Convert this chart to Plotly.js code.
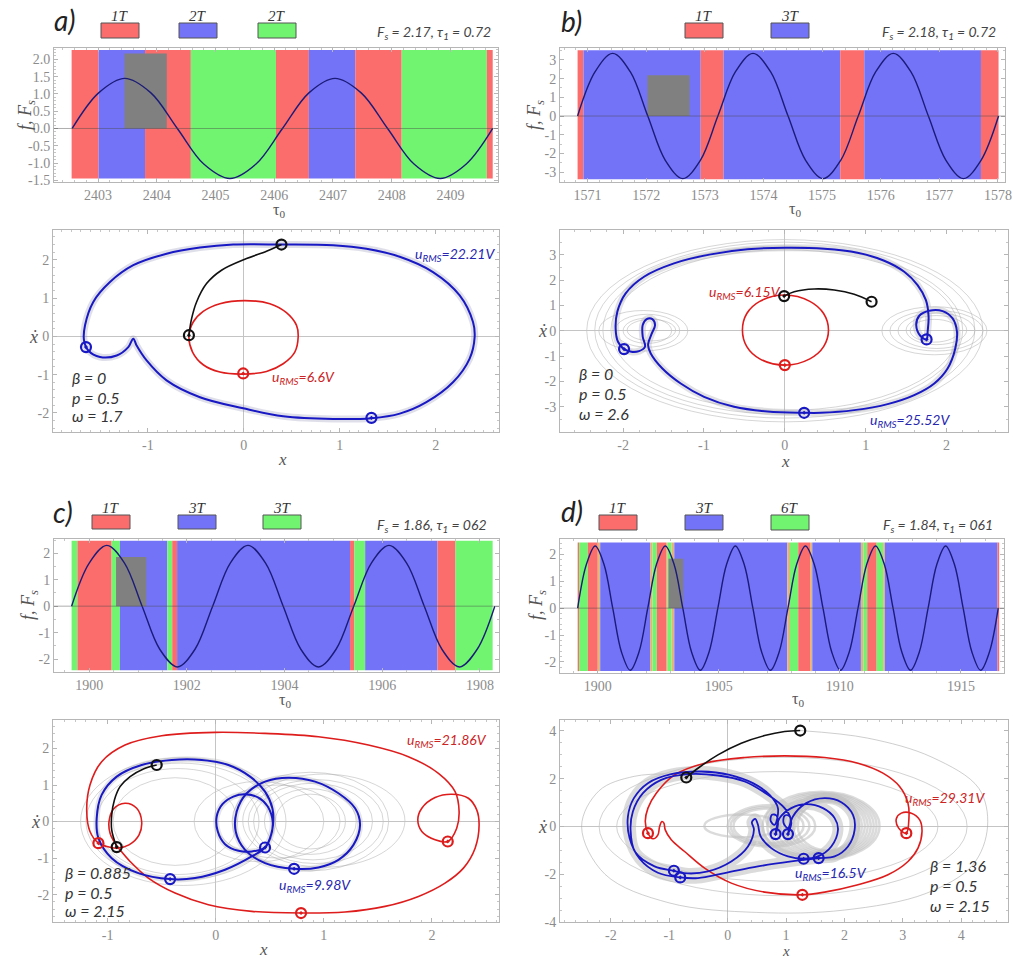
<!DOCTYPE html>
<html>
<head>
<meta charset="utf-8">
<title>Regime maps and phase portraits</title>
<script src="https://cdn.plot.ly/plotly-3.0.1.min.js"></script>
<style>
  html, body { margin: 0; padding: 0; background: #ffffff; }
  #fig { width: 1013px; height: 958px; }
</style>
</head>
<body>
<div id="fig"></div>
<script>
/* ================= forcing signal f(tau0) ================= */
const aTau = [2402.56, 2403.01, 2403.455, 2403.90, 2404.35, 2404.80, 2405.245, 2405.69, 2406.14, 2406.59, 2407.035, 2407.48, 2407.93, 2408.38, 2408.825, 2409.27, 2409.72];
const aF   = [0, 1.03, 1.45, 1.03, 0, -1.03, -1.45, -1.03, 0, 1.03, 1.45, 1.03, 0, -1.03, -1.45, -1.03, 0];

const bTau = [1570.830, 1571.129, 1571.428, 1571.728, 1572.027, 1572.326, 1572.625, 1572.924, 1573.223, 1573.523, 1573.822, 1574.121, 1574.420, 1574.719, 1575.018, 1575.318, 1575.617, 1575.916, 1576.215, 1576.514, 1576.813, 1577.113, 1577.412, 1577.711, 1578.010];
const bF   = [0, 2.37, 3.35, 2.37, 0, -2.37, -3.35, -2.37, 0, 2.37, 3.35, 2.37, 0, -2.37, -3.35, -2.37, 0, 2.37, 3.35, 2.37, 0, -2.37, -3.35, -2.37, 0];

const cTau = [1899.640, 1900.001, 1900.362, 1900.723, 1901.084, 1901.445, 1901.806, 1902.167, 1902.528, 1902.889, 1903.250, 1903.611, 1903.972, 1904.333, 1904.694, 1905.055, 1905.416, 1905.777, 1906.138, 1906.499, 1906.860, 1907.221, 1907.582, 1907.943, 1908.304];
const cF   = [0, 1.63, 2.3, 1.63, 0, -1.63, -2.3, -1.63, 0, 1.63, 2.3, 1.63, 0, -1.63, -2.3, -1.63, 0, 1.63, 2.3, 1.63, 0, -1.63, -2.3, -1.63, 0];

const dTau = [1899.170, 1899.532, 1899.894, 1900.256, 1900.618, 1900.979, 1901.341, 1901.703, 1902.065, 1902.427, 1902.789, 1903.151, 1903.513, 1903.874, 1904.236, 1904.598, 1904.960, 1905.322, 1905.684, 1906.046, 1906.408, 1906.769, 1907.131, 1907.493, 1907.855, 1908.217, 1908.579, 1908.941, 1909.303, 1909.664, 1910.026, 1910.388, 1910.750, 1911.112, 1911.474, 1911.836, 1912.198, 1912.559, 1912.921, 1913.283, 1913.645, 1914.007, 1914.369, 1914.731, 1915.093, 1915.454, 1915.816, 1916.178, 1916.540];
const dF   = [0, 1.63, 2.31, 1.63, 0, -1.63, -2.31, -1.63, 0, 1.63, 2.31, 1.63, 0, -1.63, -2.31, -1.63, 0, 1.63, 2.31, 1.63, 0, -1.63, -2.31, -1.63, 0, 1.63, 2.31, 1.63, 0, -1.63, -2.31, -1.63, 0, 1.63, 2.31, 1.63, 0, -1.63, -2.31, -1.63, 0, 1.63, 2.31, 1.63, 0, -1.63, -2.31, -1.63, 0];

/* ================= regime strips (start, end, kind) ================= */
/* kind: 1 = red, 2 = blue, 3 = green, 4 = blended edge */
const aStart = [2402.55, 2403.01, 2403.80, 2404.58, 2406.03, 2406.59, 2407.38, 2408.17, 2409.62];
const aEnd   = [2403.01, 2403.80, 2404.58, 2406.03, 2406.59, 2407.38, 2408.17, 2409.62, 2409.72];
const aKind  = [1, 2, 1, 3, 1, 2, 1, 3, 1];
const aBand  = [-1.45, 2.27];

const bStart = [1570.83, 1570.93, 1572.93, 1573.32, 1575.31, 1575.72, 1577.71];
const bEnd   = [1570.93, 1572.93, 1573.32, 1575.31, 1575.72, 1577.71, 1578.01];
const bKind  = [1, 2, 1, 2, 1, 2, 1];
const bBand  = [-3.38, 3.52];

const cStart = [1899.64, 1899.76, 1900.46, 1900.63, 1901.60, 1901.70, 1901.80, 1905.34, 1905.43, 1905.65, 1907.13, 1907.50];
const cEnd   = [1899.76, 1900.46, 1900.63, 1901.60, 1901.70, 1901.80, 1905.34, 1905.43, 1905.65, 1907.13, 1907.50, 1908.26];
const cKind  = [3, 1, 3, 2, 3, 1, 2, 1, 3, 2, 1, 3];
const cBand  = [-2.42, 2.47];

const dStart = [1899.17, 1899.23, 1899.59, 1900.00, 1900.10, 1902.16, 1902.26, 1902.44, 1902.82, 1902.89, 1903.05, 1903.16, 1907.83, 1907.94, 1908.28, 1908.77, 1908.86, 1910.87, 1910.97, 1911.13, 1911.52, 1911.79, 1911.86, 1916.51];
const dEnd   = [1899.23, 1899.59, 1900.00, 1900.10, 1902.16, 1902.26, 1902.44, 1902.82, 1902.89, 1903.05, 1903.16, 1907.83, 1907.94, 1908.28, 1908.77, 1908.86, 1910.87, 1910.97, 1911.13, 1911.52, 1911.79, 1911.86, 1916.51, 1916.58];
const dKind  = [1, 3, 1, 4, 2, 4, 3, 1, 4, 3, 4, 2, 4, 3, 1, 4, 2, 4, 3, 1, 3, 4, 2, 1];
const dBand  = [-2.34, 2.44];

/* stimulation pulse: [start, tau1, Fs] */
const aPulse = [2403.45, 0.72, 2.17];
const bPulse = [1572.02, 0.72, 2.18];
const cPulse = [1900.55, 0.62, 1.86];
const dPulse = [1902.92, 0.61, 1.84];

/* legend labels of the regime colours */
const aLegend = ['1T', '2T', '2T'];
const bLegend = ['1T', '3T'];
const cLegend = ['1T', '3T', '3T'];
const dLegend = ['1T', '3T', '6T'];

/* ================= phase portraits (x, x-dot) ================= */
/* a) */
const aBlueX = [0.392, 0.931, 1.278, 1.625, 1.972, 2.25, 2.389, 2.406, 2.354, 2.18, 1.903, 1.625, 1.33, 0.93, 0.41, -0.007, -0.458, -0.806, -1.014, -1.118, -1.153, -1.205, -1.326, -1.5, -1.622, -1.667, -1.656, -1.57, -1.396, -1.153, -0.806, -0.458, -0.111, 0.392];
const aBlueY = [2.40, 2.38, 2.29, 2.08, 1.68, 1.07, 0.375, -0.02, -0.58, -1.20, -1.72, -2.02, -2.14, -2.16, -2.09, -1.88, -1.59, -1.15, -0.63, -0.24, -0.06, -0.28, -0.50, -0.54, -0.37, -0.10, 0.29, 0.90, 1.42, 1.86, 2.16, 2.32, 2.40, 2.40];
const aRedX = [-0.573, -0.528, -0.424, -0.25, 0.01, 0.271, 0.444, 0.549, 0.566, 0.531, 0.41, 0.236, -0.007, -0.25, -0.424, -0.535, -0.573];
const aRedY = [0, 0.375, 0.654, 0.855, 0.934, 0.855, 0.62, 0.288, -0.017, -0.41, -0.716, -0.916, -0.986, -0.934, -0.742, -0.41, 0];
const aBlackX = [-0.573, -0.545, -0.493, -0.389, -0.233, 0.028, 0.236, 0.392];
const aBlackY = [0.026, 0.462, 0.899, 1.379, 1.728, 2.033, 2.225, 2.40];
const aBlueMarkX = [-1.646, 1.33],  aBlueMarkY = [-0.28, -2.13];
const aRedMarkX = [-0.007],         aRedMarkY = [-0.97];
const aStartX = [0.392], aStartY = [2.40];
const aJoinX = [-0.573], aJoinY = [0.03];

/* b) */
const bBlueX = [-1.988, -2.063, -2.092, -2.071, -1.968, -1.741, -1.370, -0.916, -0.462, 0, 0.487, 0.899, 1.229, 1.477, 1.642, 1.745, 1.778, 1.766, 1.753, 1.675, 1.625, 1.663, 1.786, 1.951, 2.075, 2.129, 2.108, 2.013, 1.848, 1.601, 1.271, 0.858, 0.446, 0.239, -0.215, -0.627, -0.998, -1.287, -1.514, -1.658, -1.691, -1.650, -1.605, -1.638, -1.708, -1.757, -1.757, -1.729, -1.803, -1.898, -1.988];
const bBlueY = [-0.725, -0.435, 0.092, 0.751, 1.476, 2.134, 2.661, 3.017, 3.215, 3.281, 3.241, 3.083, 2.767, 2.332, 1.805, 1.212, 0.553, -0.04, -0.343, -0.198, 0.224, 0.593, 0.791, 0.777, 0.487, -0.04, -0.698, -1.489, -2.082, -2.543, -2.899, -3.136, -3.241, -3.241, -3.188, -3.004, -2.609, -2.082, -1.489, -0.896, -0.567, -0.145, 0.224, 0.461, 0.461, 0.224, -0.237, -0.632, -0.804, -0.830, -0.725];
const bRedX = [-0.524, -0.47, -0.31, 0.0, 0.31, 0.48, 0.54, 0.48, 0.31, 0.0, -0.31, -0.47, -0.524];
const bRedY = [0.03, 0.68, 1.16, 1.41, 1.16, 0.68, 0.03, -0.63, -1.11, -1.357, -1.11, -0.63, 0.03];
const bBlackX = [-0.008, 0.116, 0.363, 0.611, 0.858, 1.073];
const bBlackY = [1.37, 1.54, 1.65, 1.61, 1.44, 1.146];
const bBlueMarkX = [-1.988, 1.753, 0.239], bBlueMarkY = [-0.725, -0.343, -3.241];
const bRedMarkX = [0], bRedMarkY = [-1.357];
const bStartX = [1.073], bStartY = [1.146];
const bJoinX = [-0.008], bJoinY = [1.37];

/* c) */
const cBlueX = [0.456, 0.333, 0.086, -0.191, -0.422, -0.715, -0.962, -1.085, -1.101, -1.055, -0.916, -0.685, -0.407, -0.130, 0.117, 0.318, 0.456, 0.524, 0.530, 0.503, 0.456,
                0.333, 0.210, 0.086, 0.019, 0.009, 0.062, 0.163, 0.271, 0.395, 0.481, 0.527, 0.512, 0.456, null,
                0.725, 0.456, 0.271, 0.185, 0.194, 0.287, 0.456, 0.672, 0.919, 1.135, 1.289, 1.335, 1.274, 1.135, 0.950, 0.725];
const cBlueY = [-0.710, -0.956, -1.321, -1.548, -1.576, -1.412, -1.002, -0.455, 0.091, 0.729, 1.230, 1.548, 1.685, 1.685, 1.548, 1.230, 0.820, 0.364, -0.091, -0.455, -0.710,
                -0.820, -0.801, -0.619, -0.273, 0.137, 0.474, 0.683, 0.747, 0.656, 0.410, 0, -0.364, -0.710, null,
                -1.293, -1.138, -0.774, -0.273, 0.273, 0.774, 1.093, 1.202, 1.093, 0.774, 0.364, -0.091, -0.638, -1.047, -1.257, -1.293];
const cRedX = [-0.006, 0.456, 0.950, 1.412, 1.782, 2.060, 2.214, 2.251, 2.229, 2.146, 2.029, 1.906, 1.869, 1.906, 2.029, 2.183, 2.337, 2.414, 2.436, 2.399, 2.291, 2.121, 1.875, 1.566, 1.196, 0.789, 0.333, -0.068, -0.376, -0.623, -0.792, -0.885, -0.931, -0.977, -0.987, -0.947, -0.839, -0.731, -0.685, -0.709, -0.802, -0.916, -1.008, -1.085, -1.163, -1.193, -1.163, -1.055, -0.839, -0.5, -0.006];
const cRedY = [2.441, 2.413, 2.322, 2.095, 1.776, 1.321, 0.820, 0.273, -0.182, -0.546, -0.501, -0.273, 0.046, 0.364, 0.656, 0.747, 0.638, 0.319, -0.091, -0.729, -1.275, -1.685, -2.049, -2.322, -2.477, -2.505, -2.459, -2.277, -1.958, -1.548, -1.093, -0.774, -0.592, -0.319, 0, 0.337, 0.501, 0.364, 0, -0.364, -0.638, -0.729, -0.683, -0.592, -0.273, 0.273, 1.002, 1.639, 2.095, 2.350, 2.441];
const cBlackX = [-0.916, -0.962, -0.962, -0.937, -0.885, -0.792, -0.669, -0.546];
const cBlackY = [-0.70, -0.228, 0.182, 0.592, 0.956, 1.230, 1.439, 1.548];
const cBlueMarkX = [-0.422, 0.456, 0.725], cBlueMarkY = [-1.576, -0.710, -1.293];
const cRedMarkX = [2.146, 0.789, -1.085], cRedMarkY = [-0.546, -2.505, -0.592];
const cStartX = [-0.546], cStartY = [1.548];
const cJoinX = [-0.916], cJoinY = [-0.70];

/* d) */
const dBlueX = [-0.811, -1.194, -1.507, -1.679, -1.707, -1.605, -1.365, -0.965, -0.452, 0.034, 0.433, 0.719, 0.861, 0.804, 0.736, 0.759, 0.833, 0.861, 0.821,
                0.890, 1.090, 1.346, 1.632, 1.832, 1.889, 1.775, 1.546, 1.301,
                1.033, 0.747, 0.565, 0.519, 0.473, 0.416, 0.450, 0.348, 0.062, -0.337, -0.680, -0.920,
                -1.251, -1.582, -1.662, -1.622, -1.450, -1.137, -0.680, -0.166, 0.291, 0.690, 0.975, 1.078, 1.033, 0.958, 0.975, 1.050, 1.090, 1.033,
                1.118, 1.346, 1.660, 1.946, 2.146, 2.174, 2.060, 1.832, 1.558, 1.090, 0.519, -0.052, -0.509, -0.811];
const dBlueY = [-2.133, -1.937, -1.351, -0.487, 0.420, 1.187, 1.815, 2.191, 2.303, 2.163, 1.815, 1.326, 0.768, 0.071, 0.238, 0.490, 0.462, 0.071, -0.319,
                0.350, 0.768, 0.936, 0.768, 0.350, -0.138, -0.835, -1.254, -1.351,
                -1.254, -0.905, -0.417, 0.071, 0.322, 0.183, -0.138, -0.835, -1.463, -1.881, -1.965, -1.854,
                -1.672, -1.073, -0.138, 0.629, 1.396, 1.954, 2.191, 2.135, 1.884, 1.326, 0.768, 0.322, -0.068, 0.141, 0.448, 0.448, 0.141, -0.319,
                0.420, 0.978, 1.187, 1.019, 0.490, -0.138, -0.835, -1.254, -1.324, -1.463, -1.672, -1.951, -2.160, -2.133];
const dRedX = [-1.364, -1.410, -1.364, -1.222, -0.907, -0.394, 0.291, 0.976, 1.660, 2.231, 2.659, 2.944, 3.087, 3.104, 3.059, 2.928, 2.888, 2.973, 3.145, 3.288, 3.328, 3.259, 3.088, 2.745, 2.232, 1.661, 1.279, 0.634, 0.063, -0.394, -0.737, -0.965, -1.068, -1.091, -1.125, -1.165, -1.193, -1.279, -1.364];
const dRedY = [-0.278, 0.211, 0.769, 1.396, 2.163, 2.651, 2.888, 2.958, 2.888, 2.651, 2.233, 1.675, 0.978, 0.350, -0.278, -0.068, 0.323, 0.559, 0.559, 0.280, -0.210, -0.908, -1.466, -2.023, -2.442, -2.749, -2.860, -2.749, -2.372, -1.745, -1.048, -0.560, -0.141, 0.140, 0.211, 0.001, -0.349, -0.516, -0.278];
const dBlackX = [-0.708, -0.508, -0.166, 0.233, 0.633, 0.975, 1.243];
const dBlackY = [2.052, 2.44, 2.999, 3.487, 3.808, 3.976, 4.018];
const dBlueMarkX = [-0.920, -0.811, 0.821, 1.033, 1.301, 1.558], dBlueMarkY = [-1.854, -2.133, -0.319, -0.319, -1.351, -1.324];
const dRedMarkX = [-1.364, 3.059, 1.279], dRedMarkY = [-0.278, -0.278, -2.860];
const dStartX = [1.243], dStartY = [4.018];
const dJoinX = [-0.708], dJoinY = [2.052];
/* faint outer transient of d) */
const dTransX = [1.243, 2.4, 3.5, 4.3, 4.45, 4.2, 3.4, 2.0, 0.5, -1.0, -2.1, -2.5, -2.2, -1.6, -0.9];
const dTransY = [4.018, 3.7, 2.9, 1.6, 0, -1.6, -2.8, -3.5, -3.6, -3.2, -2.0, 0, 1.5, 2.1, 2.2];

/* transient loops: [x0, x1, y0, y1] bounding boxes */
const bGray = [[-2.45, 2.45, -3.6, 3.6], [-2.35, 2.35, -3.45, 3.5], [-2.25, 2.2, -3.3, 3.35], [-2.15, 2.15, -3.15, 3.2],
               [-2.1, -1.3, -0.65, 0.65], [-2.0, -1.4, -0.5, 0.5], [-1.95, -1.35, -0.4, 0.45], [-2.3, -1.2, -0.8, 0.8],
               [1.3, 2.45, -0.8, 0.8], [1.4, 2.35, -0.7, 0.7], [1.5, 2.25, -0.55, 0.6], [1.55, 2.15, -0.45, 0.45], [1.2, 2.5, -0.95, 0.95]];
const cGray = [[-1.25, 0.65, -1.75, 1.75], [-1.2, 0.55, -1.6, 1.6], [-1.1, 0.4, -1.45, 1.45], [-0.95, 0.2, -1.2, 1.2],
               [0.15, 1.6, -1.35, 1.35], [0.25, 1.75, -1.25, 1.3], [0.35, 1.45, -1.05, 1.05], [0.45, 1.3, -0.9, 0.9],
               [0.55, 1.2, -0.75, 0.75], [-0.2, 1.0, -1.1, 1.1], [0.0, 1.15, -1.0, 1.0], [0.3, 1.55, -1.15, 1.15]];
const dGrayThick = [[0.6, 2.6, -1.4, 1.45], [0.68, 2.55, -1.35, 1.4], [0.75, 2.5, -1.3, 1.35], [0.82, 2.45, -1.25, 1.3], [0.9, 2.4, -1.2, 1.25],
                    [0.97, 2.35, -1.15, 1.2], [1.05, 2.3, -1.1, 1.15], [1.12, 2.25, -1.05, 1.1], [1.2, 2.2, -1.0, 1.05],
                    [0.0, 1.5, -0.85, 0.9], [0.05, 1.4, -0.78, 0.82], [0.1, 1.3, -0.7, 0.75], [-0.4, 0.9, -0.45, 0.5]];
const dGrayThin = [[-2.2, 4.1, -2.9, 2.9], [-1.9, 3.6, -2.3, 2.3]];

/* tick values */
const aTopX = [2403, 2404, 2405, 2406, 2407, 2408, 2409], aTopY = [-1.5, -1, -0.5, 0, 0.5, 1, 1.5, 2];
const bTopX = [1571, 1572, 1573, 1574, 1575, 1576, 1577, 1578], bTopY = [-3, -2, -1, 0, 1, 2, 3];
const cTopX = [1900, 1902, 1904, 1906, 1908], cTopY = [-2, -1, 0, 1, 2];
const dTopX = [1900, 1905, 1910, 1915], dTopY = [-2, -1, 0, 1, 2];
const aBotX = [-1, 0, 1, 2], aBotY = [-2, -1, 0, 1, 2];
const bBotX = [-2, -1, 0, 1, 2], bBotY = [-3, -2, -1, 0, 1, 2, 3];
const cBotX = [-1, 0, 1, 2], cBotY = [-2, -1, 0, 1, 2];
const dBotX = [-2, -1, 0, 1, 2, 3, 4], dBotY = [-4, -2, 0, 2, 4];

/* ================= drawing ================= */
const W = 1013, H = 958;
const FS = '"Liberation Serif", "DejaVu Serif", serif';
const FI = 'Lato, "Open Sans", sans-serif';
const kindColor = {1: '#fb6c6c', 2: '#7373f8', 3: '#71f571', 4: '#e3b47c'};
const BLUE = '#1818c4', RED = '#de1c1c', BLACK = '#111111';

const hx = (l, r) => [l / W, r / W];
const vy = (t, b) => [1 - b / H, 1 - t / H];

const traces = [];
const shapes = [];
const annotations = [];

function strips(s, e, k, band, ax) {
  traces.push({
    type: 'bar', xaxis: 'x' + ax, yaxis: 'y' + ax,
    x: s.map((v, i) => (v + e[i]) / 2), width: s.map((v, i) => e[i] - v),
    base: s.map(() => band[0]), y: s.map(() => band[1] - band[0]),
    marker: {color: k.map(c => kindColor[c]), line: {width: 0}}, hoverinfo: 'skip'
  });
}
function pulse(p, ax) {
  traces.push({
    type: 'bar', xaxis: 'x' + ax, yaxis: 'y' + ax,
    x: [p[0] + p[1] / 2], width: [p[1]], base: [0], y: [p[2]],
    marker: {color: '#808080', line: {width: 0}}, hoverinfo: 'skip'
  });
}
function signal(t, f, ax) {
  traces.push({type: 'scatter', mode: 'lines', xaxis: 'x' + ax, yaxis: 'y' + ax, x: t, y: f,
    line: {color: '#1b1b78', width: 1.4, shape: 'spline', smoothing: 1}, hoverinfo: 'skip'});
}
function curve(x, y, ax, color, width) {
  traces.push({type: 'scatter', mode: 'lines', xaxis: 'x' + ax, yaxis: 'y' + ax, x: x, y: y,
    connectgaps: false, line: {color: color, width: width, shape: 'spline', smoothing: 1}, hoverinfo: 'skip'});
}
function marks(x, y, ax, color, symbol) {
  traces.push({type: 'scatter', mode: 'markers', xaxis: 'x' + ax, yaxis: 'y' + ax, x: x, y: y,
    marker: {symbol: symbol, size: 10, color: color, line: {color: color, width: 2.2}}, hoverinfo: 'skip'});
}
function loops(list, ax, color, width) {
  list.forEach(b => shapes.push({type: 'circle', xref: 'x' + ax, yref: 'y' + ax, layer: 'below',
    x0: b[0], x1: b[1], y0: b[2], y1: b[3], line: {color: color, width: width}}));
}
function axis(dom, range, vals, digits, minorStep, anchor, zero) {
  return {
    domain: dom, range: range, anchor: anchor,
    tickmode: 'array', tickvals: vals, ticktext: vals.map(v => v.toFixed(digits)),
    showline: true, linecolor: '#b6b6b6', linewidth: 1, mirror: 'allticks',
    ticks: 'inside', ticklen: 4, tickcolor: '#b6b6b6', tickwidth: 1,
    minor: {ticks: 'inside', ticklen: 2, tickcolor: '#c6c6c6', dtick: minorStep, tick0: 0, showgrid: false},
    showgrid: false, zeroline: !!zero, zerolinecolor: '#c4c4c4', zerolinewidth: 1,
    tickfont: {family: FS, size: 14, color: '#8c8c8c'}, fixedrange: true
  };
}
function note(text, x, y, size, color, opts) {
  annotations.push(Object.assign({
    text: text, x: x / W, y: 1 - y / H, xref: 'paper', yref: 'paper', showarrow: false,
    xanchor: 'left', yanchor: 'middle',
    font: {family: FI, size: size, color: color, style: 'italic'}
  }, opts || {}));
}

/* ---- top panels: regimes over the forcing ---- */
strips(aStart, aEnd, aKind, aBand, 1); pulse(aPulse, 1); signal(aTau, aF, 1);
strips(bStart, bEnd, bKind, bBand, 2); pulse(bPulse, 2); signal(bTau, bF, 2);
strips(cStart, cEnd, cKind, cBand, 5); pulse(cPulse, 5); signal(cTau, cF, 5);
strips(dStart, dEnd, dKind, dBand, 6); pulse(dPulse, 6); signal(dTau, dF, 6);
[1, 2, 5, 6].forEach(ax => shapes.push({type: 'line', xref: 'x' + ax + ' domain', yref: 'y' + ax,
  x0: 0, x1: 1, y0: 0, y1: 0, layer: 'above', line: {color: 'rgba(70,70,70,0.45)', width: 1}}));

/* ---- phase portraits ---- */
// a)
curve(aBlueX, aBlueY, 3, 'rgba(150,150,185,0.30)', 7);
curve(aRedX, aRedY, 3, RED, 1.6);
curve(aBlueX, aBlueY, 3, BLUE, 2);
curve(aBlackX, aBlackY, 3, BLACK, 1.6);
marks(aBlueMarkX, aBlueMarkY, 3, BLUE, 'circle-open-dot');
marks(aRedMarkX, aRedMarkY, 3, RED, 'circle-open-dot');
marks(aStartX, aStartY, 3, BLACK, 'circle-open');
marks(aJoinX, aJoinY, 3, BLACK, 'circle-open-dot');
// b)
loops(bGray, 4, 'rgba(165,165,165,0.45)', 1);
curve(bBlueX, bBlueY, 4, 'rgba(170,170,175,0.35)', 7);
curve(bRedX, bRedY, 4, RED, 1.6);
curve(bBlueX, bBlueY, 4, BLUE, 2);
curve(bBlackX, bBlackY, 4, BLACK, 1.6);
marks(bBlueMarkX, bBlueMarkY, 4, BLUE, 'circle-open-dot');
marks(bRedMarkX, bRedMarkY, 4, RED, 'circle-open-dot');
marks(bStartX, bStartY, 4, BLACK, 'circle-open');
marks(bJoinX, bJoinY, 4, BLACK, 'circle-open-dot');
// c)
loops(cGray, 7, 'rgba(165,165,165,0.45)', 1);
curve(cBlueX, cBlueY, 7, 'rgba(170,170,175,0.30)', 6);
curve(cRedX, cRedY, 7, RED, 1.6);
curve(cBlueX, cBlueY, 7, BLUE, 2);
curve(cBlackX, cBlackY, 7, BLACK, 1.6);
marks(cBlueMarkX, cBlueMarkY, 7, BLUE, 'circle-open-dot');
marks(cRedMarkX, cRedMarkY, 7, RED, 'circle-open-dot');
marks(cStartX, cStartY, 7, BLACK, 'circle-open');
marks(cJoinX, cJoinY, 7, BLACK, 'circle-open-dot');
// d)
loops(dGrayThin, 8, 'rgba(165,165,165,0.5)', 1);
loops(dGrayThick, 8, 'rgba(190,190,190,0.55)', 2.5);
curve(dTransX, dTransY, 8, 'rgba(165,165,165,0.55)', 1);
curve(dBlueX, dBlueY, 8, 'rgba(190,190,190,0.55)', 11);
curve(dRedX, dRedY, 8, RED, 1.6);
curve(dBlueX, dBlueY, 8, BLUE, 1.8);
curve(dBlackX, dBlackY, 8, BLACK, 1.6);
marks(dBlueMarkX, dBlueMarkY, 8, BLUE, 'circle-open-dot');
marks(dRedMarkX, dRedMarkY, 8, RED, 'circle-open-dot');
marks(dStartX, dStartY, 8, BLACK, 'circle-open');
marks(dJoinX, dJoinY, 8, BLACK, 'circle-open-dot');

/* ---- regime legends above the strips ---- */
function legend(labels, lefts, top, bottom) {
  labels.forEach((lab, i) => {
    shapes.push({type: 'rect', xref: 'paper', yref: 'paper',
      x0: lefts[i] / W, x1: (lefts[i] + 38) / W, y0: 1 - bottom / H, y1: 1 - top / H,
      fillcolor: kindColor[i + 1], line: {color: '#555555', width: 1}});
    note(lab, lefts[i] + 19, top - 7, 14, '#333333', {xanchor: 'center', font: {family: FS, size: 15, color: '#333', style: 'italic'}});
  });
}
legend(aLegend, [101, 179, 258], 23, 38);
legend(bLegend, [685, 771], 23, 38);
legend(cLegend, [92, 178, 263], 515, 529);
legend(dLegend, [599, 685, 771], 515, 530);

/* panel letters and parameters */
note('a)', 52, 20, 28, '#222');
note('b)', 559, 21, 28, '#222');
note('c)', 51, 512, 28, '#222');
note('d)', 559, 511, 28, '#222');
note('F<sub>s</sub> = 2.17, τ<sub>1</sub> = 0.72', 493, 33, 14, '#444', {xanchor: 'right'});
note('F<sub>s</sub> = 2.18, τ<sub>1</sub> = 0.72', 998, 33, 14, '#444', {xanchor: 'right'});
note('F<sub>s</sub> = 1.86, τ<sub>1</sub> = 062', 489, 525, 14, '#444', {xanchor: 'right'});
note('F<sub>s</sub> = 1.84, τ<sub>1</sub> = 061', 995, 525, 14, '#444', {xanchor: 'right'});

/* axis titles */
const serifTitle = (sz, it) => ({family: FS, size: sz, color: '#555', style: it ? 'italic' : 'normal'});
[[279, 210], [795, 209], [285, 700], [798, 699]].forEach(p =>
  note('τ<sub>0</sub>', p[0], p[1], 16, '#555', {xanchor: 'center', font: serifTitle(16, false)}));
[[26, 115], [535, 115], [29, 605], [537, 605]].forEach(p =>
  note('f, F<sub>s</sub>', p[0], p[1], 16, '#555', {xanchor: 'center', textangle: -90, font: serifTitle(18, true)}));
[[282, 460, 17], [785, 462, 17], [263, 949, 17], [786, 951, 15]].forEach(p =>
  note('x', p[0], p[1], 18, '#555', {xanchor: 'center', font: serifTitle(p[2], true)}));
[[33, 337], [542, 331], [35, 822], [542, 827]].forEach(p =>
  note('ẋ', p[0], p[1], 18, '#555', {xanchor: 'center', font: serifTitle(18, true)}));

/* parameter blocks */
function params(lines, x, ys) { lines.forEach((t, i) => note(t, x, ys[i], 16, '#333')); }
params(['β = 0', 'p = 0.5', 'ω = 1.7'], 70, [378, 397, 415]);
params(['β = 0', 'p = 0.5', 'ω = 2.6'], 577, [373, 393, 413]);
params(['β = 0.885', 'p = 0.5', 'ω = 2.15'], 63, [872, 892, 910]);
params(['β = 1.36', 'p = 0.5', 'ω = 2.15'], 928, [865, 885, 905]);

/* RMS voltages */
const rms = v => 'u<sub>RMS</sub>=' + v;
note(rms('22.21V'), 413, 255, 14, '#2626b0');
note(rms('6.6V'), 270, 378, 14, '#cc2424');
note(rms('6.15V'), 707, 292, 14, '#cc2424');
note(rms('25.52V'), 868, 420, 14, '#2626b0');
note(rms('21.86V'), 405, 740, 14, '#cc2424');
note(rms('9.98V'), 277, 885, 14, '#2626b0');
note(rms('29.31V'), 903, 798, 14, '#cc2424');
note(rms('16.5V'), 793, 873, 14, '#2626b0');

const layout = {
  width: W, height: H, margin: {l: 0, r: 0, t: 0, b: 0},
  paper_bgcolor: '#ffffff', plot_bgcolor: '#ffffff',
  showlegend: false, barmode: 'overlay', hovermode: false,
  xaxis:  axis(hx(54, 498),  [2402.25, 2409.81], aTopX, 0, 0.2, 'y'),
  yaxis:  axis(vy(48, 182),  [-1.55, 2.33], aTopY, 1, 0.1, 'x'),
  xaxis2: axis(hx(560, 1005), [1570.53, 1578.12], bTopX, 0, 0.2, 'y2'),
  yaxis2: axis(vy(48, 182),  [-3.53, 3.64], bTopY, 0, 0.5, 'x2'),
  xaxis3: axis(hx(53, 499),  [-1.99, 2.66], aBotX, 0, 0.1, 'y3', true),
  yaxis3: axis(vy(230, 432), [-2.5, 2.78], aBotY, 0, 0.2, 'x3', true),
  xaxis4: axis(hx(560, 1008), [-2.78, 2.76], bBotX, 0, 0.2, 'y4', true),
  yaxis4: axis(vy(230, 432), [-4.0, 3.98], bBotY, 0, 0.5, 'x4', true),
  xaxis5: axis(hx(54, 499),  [1899.28, 1908.39], cTopX, 0, 0.5, 'y5'),
  yaxis5: axis(vy(539, 672), [-2.49, 2.54], cTopY, 0, 0.5, 'x5'),
  xaxis6: axis(hx(560, 1004), [1898.44, 1916.78], dTopX, 0, 1, 'y6'),
  yaxis6: axis(vy(539, 673), [-2.41, 2.57], dTopY, 0, 0.2, 'x6'),
  xaxis7: axis(hx(53, 499),  [-1.505, 2.62], cBotX, 0, 0.1, 'y7', true),
  yaxis7: axis(vy(720, 922), [-2.75, 2.78], cBotY, 0, 0.2, 'x7', true),
  xaxis8: axis(hx(560, 1008), [-2.87, 4.8], dBotX, 0, 0.2, 'y8', true),
  yaxis8: axis(vy(720, 922), [-4.0, 4.46], dBotY, 0, 0.5, 'x8', true),
  shapes: shapes, annotations: annotations
};

Plotly.newPlot('fig', traces, layout, {staticPlot: true, displayModeBar: false});
</script>
</body>
</html>
